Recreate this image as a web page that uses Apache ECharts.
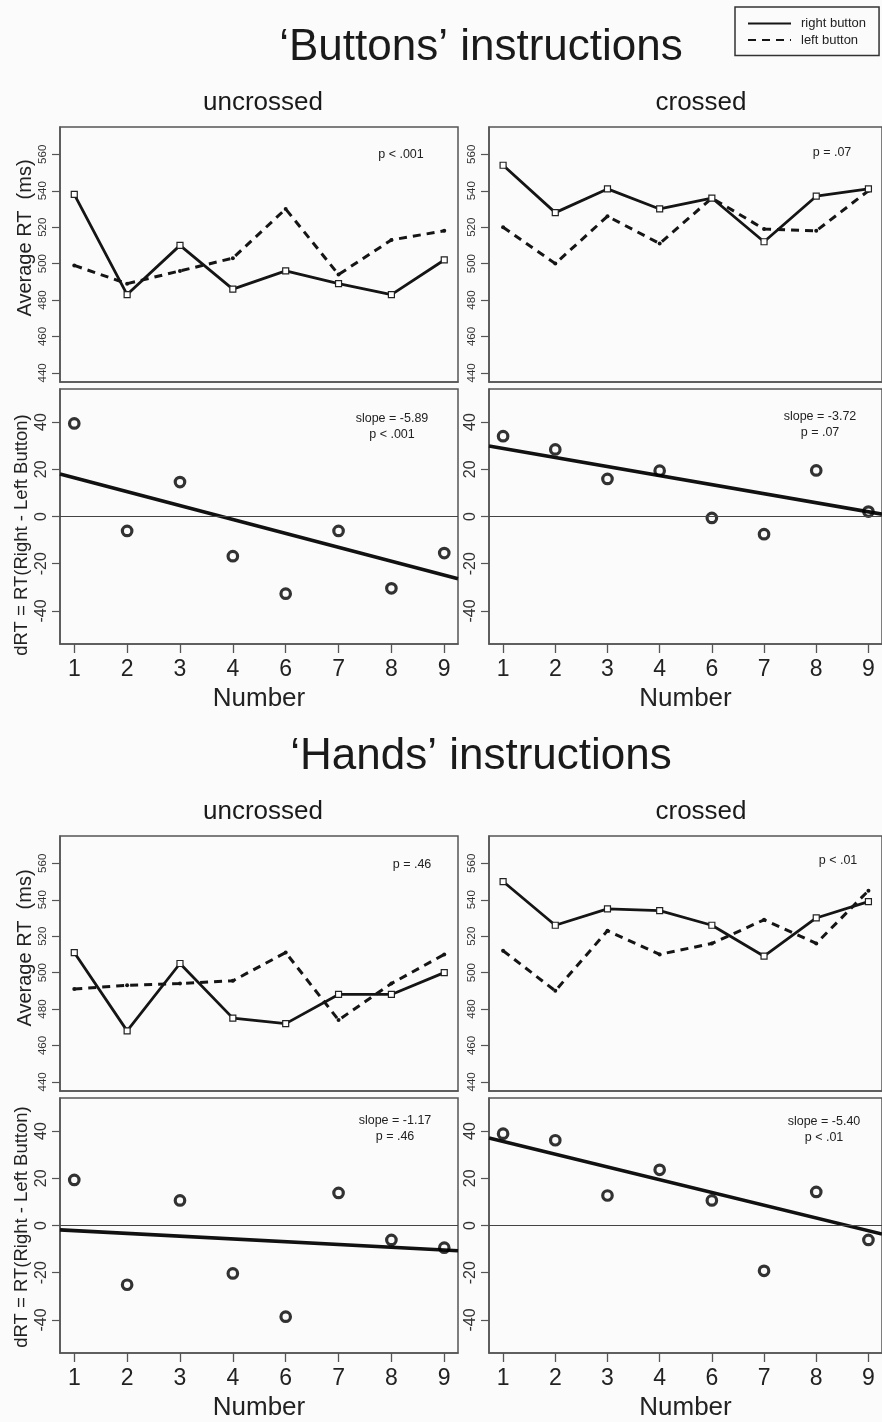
<!DOCTYPE html>
<html>
<head>
<meta charset="utf-8">
<script src="https://cdn.jsdelivr.net/npm/echarts@6/dist/echarts.min.js"></script>
<style>
  html, body { margin: 0; padding: 0; background: #fbfbfb; }
  #main { width: 882px; height: 1422px; }
</style>
</head>
<body>
<div id="main"></div>
<script>
// x positions are the 8 "Number" conditions (5 is absent), evenly spaced
var numberLabels = ['1', '2', '3', '4', '6', '7', '8', '9'];
var rtTicks = [440, 460, 480, 500, 520, 540, 560];
var drtTicks = [-40, -20, 0, 20, 40];

// 'Buttons' instructions
var btnUncrossedRight = [538, 483, 510, 486, 496, 489, 483, 502];
var btnUncrossedLeft  = [499, 489, 496, 503, 530, 494, 513, 518];
var btnUncrossedDiff  = [39.4, -6.1, 14.6, -16.8, -32.7, -6.1, -30.4, -15.5];
var btnCrossedRight   = [554, 528, 541, 530, 536, 512, 537, 541];
var btnCrossedLeft    = [520, 500, 526, 511, 536, 519, 518, 540];
var btnCrossedDiff    = [34, 28.4, 15.9, 19.4, -0.6, -7.5, 19.5, 2.1];

// 'Hands' instructions
var handUncrossedRight = [511, 468, 505, 475, 472, 488, 488, 500];
var handUncrossedLeft  = [491, 493, 494, 495.5, 511, 474, 494, 510];
var handUncrossedDiff  = [19.3, -25.1, 10.6, -20.3, -38.6, 13.8, -6.1, -9.4];
var handCrossedRight   = [550, 526, 535, 534, 526, 509, 530, 539];
var handCrossedLeft    = [512, 490, 523, 510, 516, 529, 516, 545];
var handCrossedDiff    = [38.9, 36.1, 12.7, 23.6, 10.6, -19.2, 14.2, -6.1];

// regression lines: [intercept at index 0, slope per index]
var btnUncrossedFit  = [22.3, -5.89];
var btnCrossedFit    = [32.7, -3.84];
var handUncrossedFit = [-1.0, -1.17];
var handCrossedFit   = [41.0, -5.4];

var pNotes = ['p < .001', 'p = .07', 'p = .46', 'p < .01'];
var slopeNotes = [
  ['slope = -5.89', 'p < .001'],
  ['slope = -3.72', 'p = .07'],
  ['slope = -1.17', 'p = .46'],
  ['slope = -5.40', 'p < .01']
];

var FONT = '"Liberation Sans", Arial, sans-serif';
var X_MIN = 0.73, X_MAX = 8.26;
var idx = numberLabels.map(function (d, i) { return i + 1; });

function pairs(vals) {
  return vals.map(function (v, i) { return [idx[i], v]; });
}

var myChart = echarts.init(document.getElementById('main'));

var grids = [], xAxes = [], yAxes = [], series = [], graphics = [];

// panel layout: column left edge, top-row top
var colLeft = [60, 489];
var sections = [
  { top: 127, right: [btnUncrossedRight, btnCrossedRight], left: [btnUncrossedLeft, btnCrossedLeft],
    diff: [btnUncrossedDiff, btnCrossedDiff], fit: [btnUncrossedFit, btnCrossedFit] },
  { top: 836, right: [handUncrossedRight, handCrossedRight], left: [handUncrossedLeft, handCrossedLeft],
    diff: [handUncrossedDiff, handCrossedDiff], fit: [handUncrossedFit, handCrossedFit] }
];

function addAxes(gi, isBottom, yMin, yMax, yTicks, labelSize) {
  xAxes.push({
    type: 'value', gridIndex: gi, min: X_MIN, max: X_MAX,
    splitLine: { show: false },
    axisLine: { show: true, onZero: false, lineStyle: { color: '#555', width: 1.5 } },
    axisTick: { show: isBottom, length: 9, customValues: idx, lineStyle: { color: '#555', width: 1.3 } },
    axisLabel: {
      show: isBottom, customValues: idx, margin: 14,
      fontSize: 23, fontFamily: FONT, color: '#222',
      formatter: function (v) { return numberLabels[Math.round(v) - 1]; }
    },
    name: isBottom ? 'Number' : '',
    nameLocation: 'middle', nameGap: 42,
    nameTextStyle: { fontSize: 26, fontFamily: FONT, color: '#222' }
  });
  yAxes.push({
    type: 'value', gridIndex: gi, min: yMin, max: yMax,
    splitLine: { show: false },
    axisLine: { show: true, onZero: false, lineStyle: { color: '#555', width: 1.5 } },
    axisTick: { show: true, length: 8, customValues: yTicks, lineStyle: { color: '#555', width: 1.2 } },
    axisLabel: { customValues: yTicks, rotate: 90, margin: labelSize > 12 ? 10 : 11,
      fontSize: labelSize, fontFamily: FONT, color: '#333' }
  });
}

sections.forEach(function (sec, s) {
  for (var c = 0; c < 2; c++) {
    // upper panel: average RT
    var gi = grids.length;
    grids.push({ left: colLeft[c], top: sec.top, width: 398, height: 255,
      show: true, borderColor: '#555', borderWidth: 1.5, backgroundColor: 'transparent' });
    addAxes(gi, false, 435, 575, rtTicks, 11.5);
    series.push({
      name: 'right button', type: 'line', xAxisIndex: gi, yAxisIndex: gi,
      data: pairs(sec.right[c]),
      lineStyle: { color: '#151515', width: 2.8, type: 'solid' },
      symbol: 'rect', symbolSize: 6, z: 3,
      itemStyle: { color: '#fff', borderColor: '#222', borderWidth: 1.2 }
    });
    series.push({
      name: 'left button', type: 'line', xAxisIndex: gi, yAxisIndex: gi,
      data: pairs(sec.left[c]),
      lineStyle: { color: '#151515', width: 3, type: [8, 6] },
      symbol: 'circle', symbolSize: 4, z: 2,
      itemStyle: { color: '#151515' }
    });

    // lower panel: dRT with fit
    gi = grids.length;
    grids.push({ left: colLeft[c], top: sec.top + 262, width: 398, height: 255,
      show: true, borderColor: '#555', borderWidth: 1.5, backgroundColor: 'transparent' });
    addAxes(gi, true, -54, 54, drtTicks, 16);
    var fit = sec.fit[c];
    series.push({
      name: 'fit', type: 'line', xAxisIndex: gi, yAxisIndex: gi,
      data: [[X_MIN, fit[0] + fit[1] * X_MIN], [X_MAX, fit[0] + fit[1] * X_MAX]],
      symbol: 'none', lineStyle: { color: '#111', width: 3.6 }, z: 2,
      markLine: {
        silent: true, symbol: ['none', 'none'], label: { show: false },
        lineStyle: { color: '#444', width: 1.2, type: 'solid' },
        data: [{ yAxis: 0 }]
      }
    });
    series.push({
      name: 'dRT', type: 'scatter', xAxisIndex: gi, yAxisIndex: gi,
      data: pairs(sec.diff[c]),
      symbol: 'circle', symbolSize: 9.5, z: 3,
      itemStyle: { color: 'rgba(0,0,0,0)', borderColor: '#000', borderWidth: 3.2 }
    });
  }
});

// annotations and axis titles
function txt(x, y, text, size, rot) {
  graphics.push({
    type: 'text', x: x, y: y, rotation: rot || 0,
    style: { text: text, fill: '#222', font: size + 'px ' + FONT, align: 'center', verticalAlign: 'middle' }
  });
}
var pPos = [[401, 155], [832, 153], [412, 865], [838, 861]];
pPos.forEach(function (p, i) { txt(p[0], p[1], pNotes[i], 12.5); });
var sPos = [[392, 419], [820, 417], [395, 1121], [824, 1122]];
sPos.forEach(function (p, i) {
  txt(p[0], p[1], slopeNotes[i][0], 12.5);
  txt(p[0], p[1] + 16, slopeNotes[i][1], 12.5);
});
txt(25, 238, 'Average RT  (ms)', 20, Math.PI / 2);
txt(22, 535, 'dRT = RT(Right - Left Button)', 18.5, Math.PI / 2);
txt(25, 948, 'Average RT  (ms)', 20, Math.PI / 2);
txt(22, 1227, 'dRT = RT(Right - Left Button)', 18.5, Math.PI / 2);

option = {
  backgroundColor: '#fbfbfb',
  animation: false,
  title: [
    { text: '\u2018Buttons\u2019 instructions', left: 481, top: 26, textAlign: 'center', padding: 0,
      textStyle: { fontSize: 44, fontWeight: 'normal', fontFamily: FONT, color: '#1a1a1a' } },
    { text: 'uncrossed', left: 263, top: 90, textAlign: 'center', padding: 0,
      textStyle: { fontSize: 26, fontWeight: 'normal', fontFamily: FONT, color: '#1a1a1a' } },
    { text: 'crossed', left: 701, top: 90, textAlign: 'center', padding: 0,
      textStyle: { fontSize: 26, fontWeight: 'normal', fontFamily: FONT, color: '#1a1a1a' } },
    { text: '\u2018Hands\u2019 instructions', left: 481, top: 735, textAlign: 'center', padding: 0,
      textStyle: { fontSize: 44, fontWeight: 'normal', fontFamily: FONT, color: '#1a1a1a' } },
    { text: 'uncrossed', left: 263, top: 799, textAlign: 'center', padding: 0,
      textStyle: { fontSize: 26, fontWeight: 'normal', fontFamily: FONT, color: '#1a1a1a' } },
    { text: 'crossed', left: 701, top: 799, textAlign: 'center', padding: 0,
      textStyle: { fontSize: 26, fontWeight: 'normal', fontFamily: FONT, color: '#1a1a1a' } }
  ],
  legend: {
    data: ['right button', 'left button'],
    orient: 'vertical', left: 735, top: 7,
    padding: [10, 13, 9, 12],
    itemWidth: 43, itemHeight: 12, itemGap: 3.6,
    borderColor: '#333', borderWidth: 1.5, backgroundColor: '#fbfbfb',
    itemStyle: { opacity: 0 },
    textStyle: { fontSize: 13, fontFamily: FONT, color: '#222', padding: [0, 0, 0, 5] }
  },
  grid: grids,
  xAxis: xAxes,
  yAxis: yAxes,
  series: series,
  graphic: graphics
};
myChart.setOption(option);
window.onresize = myChart.resize;
</script>
</body>
</html>
